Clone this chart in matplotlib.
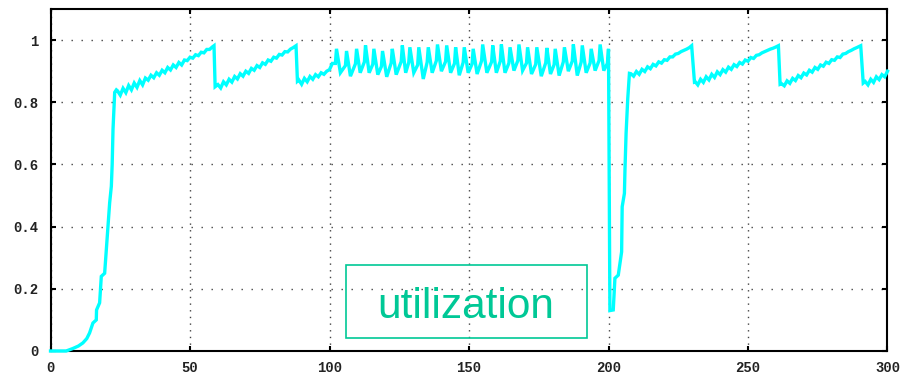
import numpy as np
import matplotlib.pyplot as plt
from matplotlib.patches import Rectangle

# slow start ramp
ramp_t = [0, 5.6, 8, 10, 11.6, 13, 14, 15.2, 16.4, 16.5, 17.6, 18.2, 19.4, 20.0,
          20.6, 21.2, 21.8, 22.1, 22.4, 23.0]
ramp_u = [0, 0, 0.008, 0.016, 0.026, 0.04, 0.058, 0.09, 0.10, 0.132, 0.155, 0.24,
          0.25, 0.326, 0.40, 0.477, 0.53, 0.60, 0.713, 0.832]

# sawtooth phases (time, utilization)
tooth1_t = [23.6, 24, 25, 26, 27, 28, 29, 30, 31, 32, 33, 34, 35, 36, 37, 38, 39, 40,
            41, 42, 43, 44, 45, 46, 47, 48, 49, 50, 51, 52, 53, 54, 55, 56, 57, 58, 58.6]
tooth1_u = [0.840, 0.837, 0.823, 0.845, 0.831, 0.854, 0.840, 0.862, 0.848, 0.870,
            0.856, 0.878, 0.871, 0.887, 0.879, 0.895, 0.887, 0.903, 0.895, 0.912,
            0.904, 0.920, 0.912, 0.928, 0.920, 0.936, 0.934, 0.945, 0.942, 0.953,
            0.950, 0.961, 0.959, 0.970, 0.970, 0.978, 0.982]

tooth2_t = [59.0, 60, 61, 62, 63, 64, 65, 66, 67, 68, 69, 70, 71, 72, 73, 74, 75, 76,
            77, 78, 79, 80, 81, 82, 83, 84, 85, 86, 87, 88.0]
tooth2_u = [0.850, 0.857, 0.846, 0.866, 0.856, 0.874, 0.865, 0.883, 0.875, 0.892,
            0.884, 0.900, 0.893, 0.909, 0.903, 0.918, 0.912, 0.927, 0.922, 0.936,
            0.932, 0.945, 0.942, 0.954, 0.952, 0.963, 0.962, 0.971, 0.976, 0.982]

tooth3_t = [88.5, 89, 90, 91, 92, 93, 94, 95, 96, 97, 98, 99, 100, 101]
tooth3_u = [0.868, 0.872, 0.858, 0.877, 0.866, 0.883, 0.874, 0.889, 0.882, 0.895,
            0.890, 0.900, 0.905, 0.925]

# oscillating phase 100..200
osc_peak_t = [102.5, 106.1, 109.7, 112.9, 115.9, 119.0, 122.5, 126.1, 128.8, 132.0,
              135.4, 138.7, 142.0, 145.2, 148.3, 151.5, 154.9, 158.5, 161.6, 164.7,
              167.9, 171.0, 174.3, 177.9, 180.9, 184.2, 187.4, 190.6, 193.8, 197.0, 200.0]
osc_peak_u = [0.972, 0.965, 0.972, 0.983, 0.972, 0.965, 0.972, 0.983, 0.977, 0.977,
              0.977, 0.986, 0.983, 0.977, 0.977, 0.972, 0.986, 0.983, 0.986, 0.977,
              0.986, 0.977, 0.977, 0.975, 0.972, 0.977, 0.986, 0.983, 0.972, 0.986, 0.972]
# foot of each steep rise just before a peak
osc_rise_t = [102.1, 105.7, 109.3, 112.5, 115.5, 118.6, 122.1, 125.7, 128.4, 131.6,
              135.0, 138.3, 141.6, 144.8, 147.9, 151.1, 154.5, 158.1, 161.2, 164.3,
              167.5, 170.6, 173.9, 177.5, 180.5, 183.8, 187.0, 190.2, 193.4, 196.6, 199.6]
osc_rise_u = [0.925, 0.918, 0.924, 0.930, 0.922, 0.915, 0.926, 0.931, 0.928, 0.920,
              0.929, 0.934, 0.931, 0.925, 0.928, 0.923, 0.933, 0.930, 0.932, 0.926,
              0.934, 0.926, 0.922, 0.927, 0.921, 0.930, 0.932, 0.929, 0.926, 0.934, 0.925]
osc_trough_t = [103.9, 107.5, 111.0, 114.2, 117.3, 120.5, 123.9, 127.3, 130.2, 133.6,
                136.8, 140.1, 143.4, 146.5, 149.7, 152.9, 156.4, 159.8, 162.9, 166.1,
                169.2, 172.4, 175.9, 179.2, 182.3, 185.6, 188.8, 192.0, 195.2, 198.3]
osc_trough_u = [0.895, 0.884, 0.895, 0.895, 0.889, 0.882, 0.889, 0.895, 0.895, 0.875,
                0.895, 0.900, 0.895, 0.887, 0.895, 0.891, 0.895, 0.895, 0.895, 0.902,
                0.902, 0.891, 0.884, 0.891, 0.886, 0.900, 0.886, 0.895, 0.902, 0.902]

# collapse at 200 and recovery
crash_t = [200.5, 201.7, 202.3, 203.5, 204.1, 204.7, 204.9, 205.7, 205.9, 206.3,
           206.9, 207.5]
crash_u = [0.13, 0.132, 0.234, 0.244, 0.282, 0.319, 0.464, 0.507, 0.582, 0.70,
           0.812, 0.893]

tooth4_t = [208, 209, 210, 211, 212, 213, 214, 215, 216, 217, 218, 219, 220, 221, 222,
            223, 224, 225, 226, 227, 228, 229, 229.8]
tooth4_u = [0.892, 0.884, 0.899, 0.890, 0.906, 0.899, 0.914, 0.908, 0.922, 0.917,
            0.930, 0.926, 0.937, 0.935, 0.946, 0.946, 0.955, 0.957, 0.963, 0.967,
            0.971, 0.976, 0.982]

tooth5_t = [230.8, 231, 232, 233, 234, 235, 236, 237, 238, 239, 240, 241, 242, 243,
            244, 245, 246, 247, 248, 249, 250, 251, 252, 253, 254, 255, 256, 257, 258,
            259, 260, 260.9]
tooth5_u = [0.866, 0.867, 0.856, 0.874, 0.864, 0.882, 0.872, 0.890, 0.880, 0.898,
            0.889, 0.905, 0.897, 0.913, 0.906, 0.921, 0.915, 0.928, 0.923, 0.936,
            0.932, 0.944, 0.941, 0.951, 0.953, 0.959, 0.963, 0.967, 0.971, 0.974,
            0.978, 0.982]

tooth6_t = [261.5, 262, 263, 264, 265, 266, 267, 268, 269, 270, 271, 272, 273, 274,
            275, 276, 277, 278, 279, 280, 281, 282, 283, 284, 285, 286, 287, 288, 289,
            290.4]
tooth6_u = [0.858, 0.860, 0.853, 0.869, 0.861, 0.877, 0.870, 0.886, 0.879, 0.894,
            0.888, 0.903, 0.897, 0.912, 0.906, 0.920, 0.916, 0.929, 0.925, 0.937,
            0.935, 0.946, 0.944, 0.955, 0.957, 0.963, 0.967, 0.972, 0.976, 0.982]

tooth7_t = [291.3, 292, 293, 294, 295, 296, 297, 298, 299, 300]
tooth7_u = [0.862, 0.867, 0.856, 0.874, 0.864, 0.882, 0.873, 0.889, 0.882, 0.900]

# merge the oscillation points in time order
osc_t = np.array(osc_rise_t + osc_peak_t + osc_trough_t)
osc_u = np.array(osc_rise_u + osc_peak_u + osc_trough_u)
order = np.argsort(osc_t)
osc_t, osc_u = osc_t[order], osc_u[order]

t = np.concatenate([ramp_t, tooth1_t, tooth2_t, tooth3_t, osc_t, crash_t,
                    tooth4_t, tooth5_t, tooth6_t, tooth7_t])
u = np.concatenate([ramp_u, tooth1_u, tooth2_u, tooth3_u, osc_u, crash_u,
                    tooth4_u, tooth5_u, tooth6_u, tooth7_u])

fig = plt.figure(figsize=(9.07, 3.76), dpi=100)
ax = fig.add_axes([0.0557, 0.0665, 0.9228, 0.9095])

ax.plot(t, u, color='#00ffff', linewidth=2.4, solid_joinstyle='miter', zorder=3,
        clip_on=False)

ax.set_xlim(0, 300)
ax.set_ylim(0, 1.1)
ax.set_xticks([0, 50, 100, 150, 200, 250, 300])
ax.set_yticks([0, 0.2, 0.4, 0.6, 0.8, 1])
ax.set_yticklabels(['0', '0.2', '0.4', '0.6', '0.8', '1'])

ax.yaxis.grid(True, color='#444444', linewidth=1.0, linestyle=(0, (1, 6.2)))
ax.xaxis.grid(True, color='#444444', linewidth=1.0, linestyle=(0, (1, 3.8)))

for s in ax.spines.values():
    s.set_linewidth(1.5)
    s.set_color('black')

ax.tick_params(direction='in', length=3.6, width=1.5, top=True, right=True,
               colors='black', labelcolor='#222222')
ax.tick_params(axis='x', pad=7)
ax.tick_params(axis='y', pad=8.5)
for lab in ax.get_xticklabels() + ax.get_yticklabels():
    lab.set_fontfamily('Liberation Mono')
    lab.set_fontsize(10)
    lab.set_fontweight('bold')

# label box
green = '#00c896'
fig.patches.append(Rectangle((0.3815, 0.1011), 0.2657, 0.1941, transform=fig.transFigure,
                             fill=False, edgecolor=green, linewidth=1.2))
fig.text(0.5138, 0.1543, 'utilization', ha='center', va='baseline', color=green,
         fontsize=30.5, fontfamily='Liberation Sans')

fig.savefig('out.png', dpi=100)
